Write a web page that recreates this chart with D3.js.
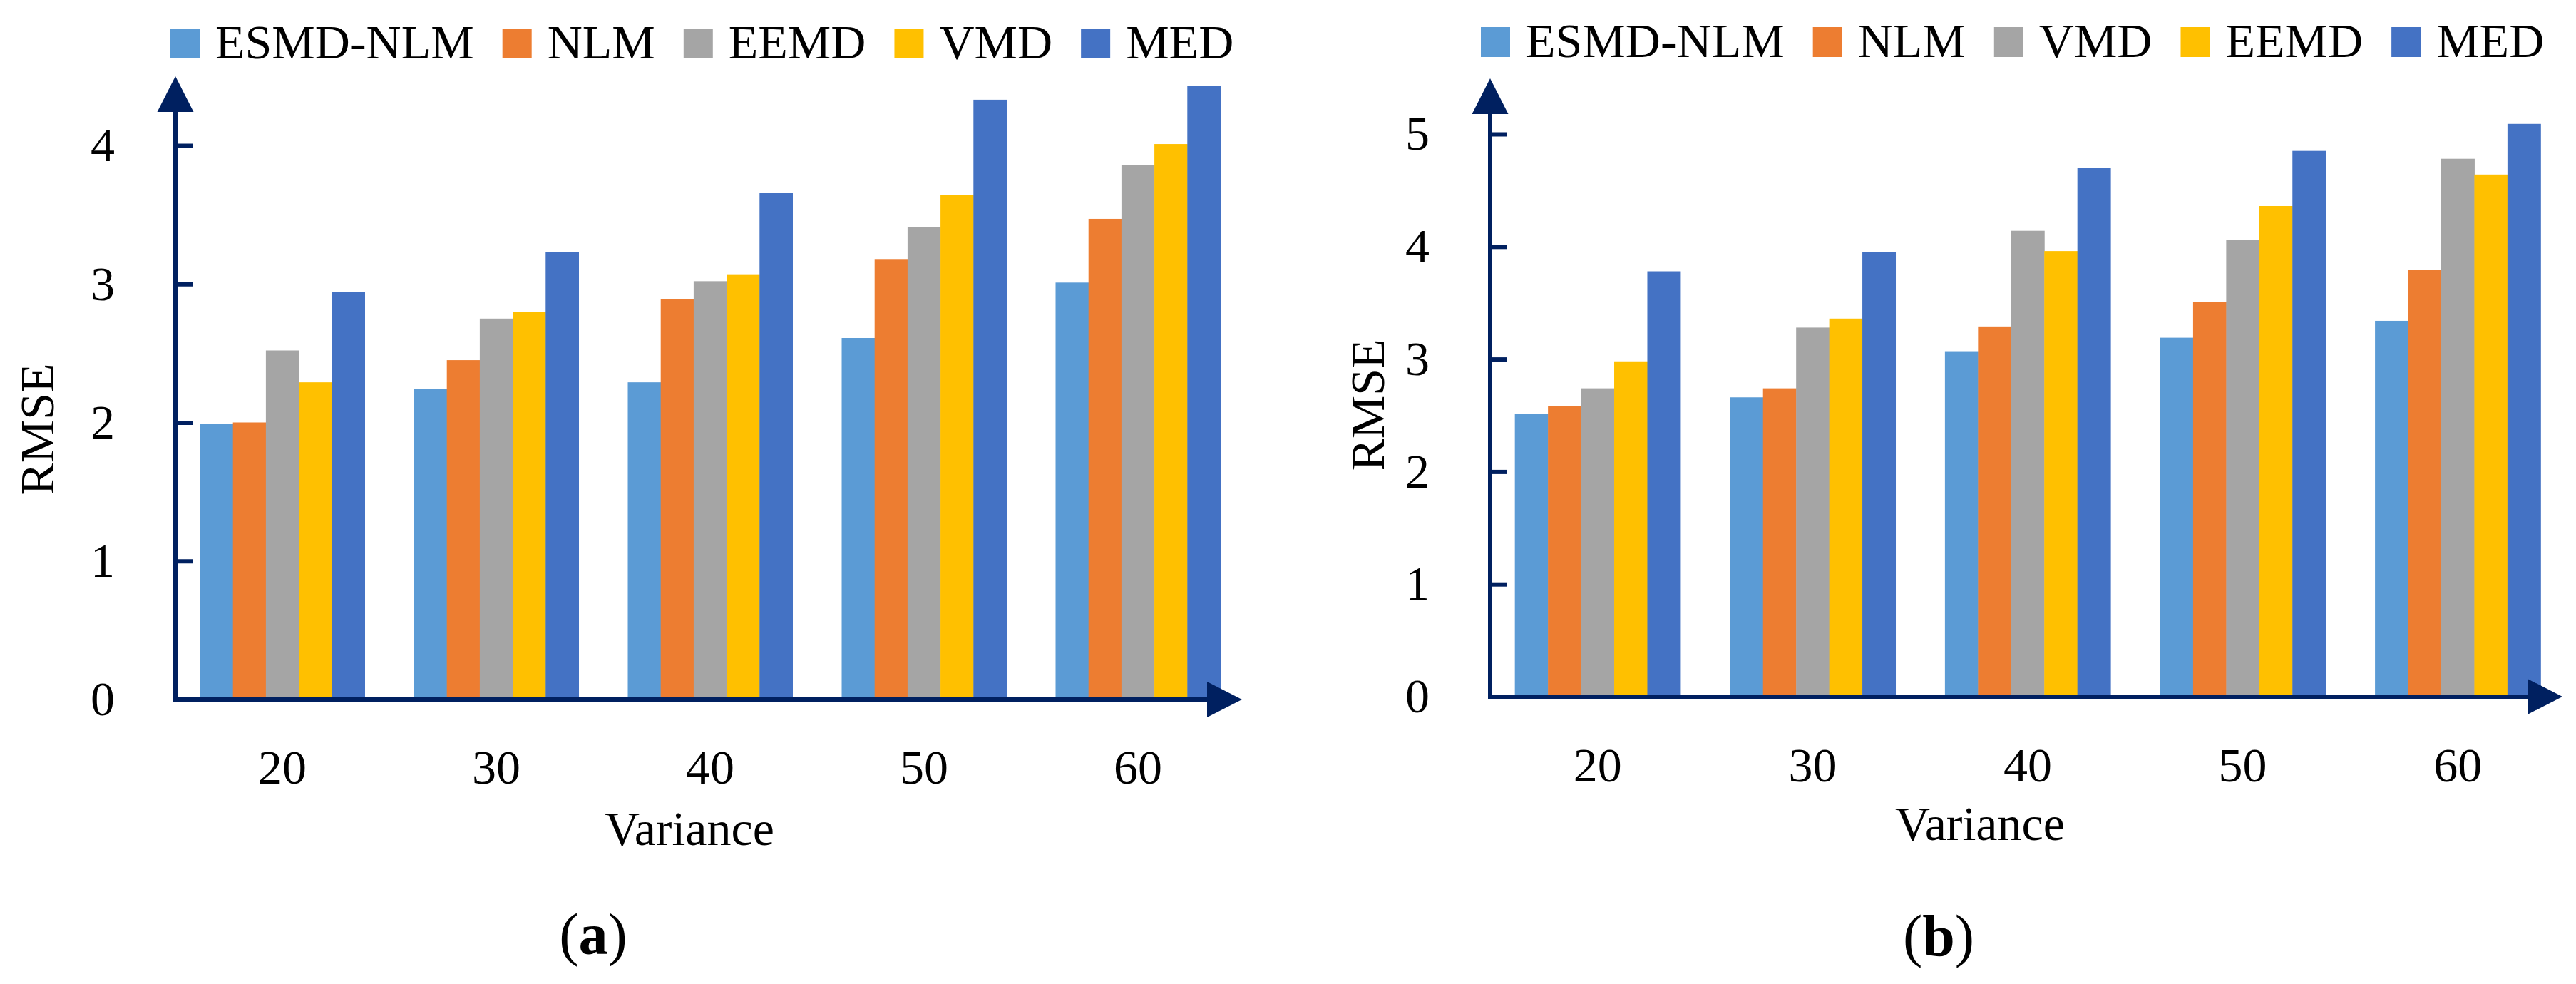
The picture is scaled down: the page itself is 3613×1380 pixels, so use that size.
<!DOCTYPE html>
<html lang="en">
<head>
<meta charset="UTF-8">
<title>RMSE vs Variance</title>
<script src="https://d3js.org/d3.v7.min.js"></script>
<style>
    body { margin: 0; background: white; }
    svg { display: block; font-family: "Liberation Serif", "Times New Roman", serif; }
    .label { font-size: 68px; fill: #000; }
    .legend text { font-size: 68px; fill: #000; }
    .panel-tag { font-size: 82px; fill: #000; }
</style>
</head>
<body>
<svg id="chart" width="3613" height="1380"></svg>
<script>
// categories (variance levels)
const categories = ["20", "30", "40", "50", "60"];

// panel (a)
const seriesA = ["ESMD-NLM", "NLM", "EEMD", "VMD", "MED"];
const aEsmdNlm = [1.99, 2.24, 2.29, 2.61, 3.01];
const aNlm     = [2.00, 2.45, 2.89, 3.18, 3.47];
const aEemd    = [2.52, 2.75, 3.02, 3.41, 3.86];
const aVmd     = [2.29, 2.80, 3.07, 3.64, 4.01];
const aMed     = [2.94, 3.23, 3.66, 4.33, 4.43];
const ticksA   = [0, 1, 2, 3, 4];

// panel (b)
const seriesB = ["ESMD-NLM", "NLM", "VMD", "EEMD", "MED"];
const bEsmdNlm = [2.51, 2.66, 3.07, 3.19, 3.34];
const bNlm     = [2.58, 2.74, 3.29, 3.51, 3.79];
const bVmd     = [2.74, 3.28, 4.14, 4.06, 4.78];
const bEemd    = [2.98, 3.36, 3.96, 4.36, 4.64];
const bMed     = [3.78, 3.95, 4.70, 4.85, 5.09];
const ticksB   = [0, 1, 2, 3, 4, 5];

// colours go by position in the legend
const colors = ["#5B9BD5", "#ED7D31", "#A5A5A5", "#FFC000", "#4472C4"];
const axisColor = "#002060";
const serif = '"Liberation Serif", "Times New Roman", serif';

const svg = d3.select("#chart");

function styleTicks(sel) {
    sel.selectAll("text")
        .style("font-family", serif)
        .style("font-size", "68px")
        .style("fill", "#000");
}

function drawPanel(p) {
    const g = svg.append("g");

    const x0 = d3.scaleBand()
        .domain(categories)
        .range(p.xRange)
        .paddingInner(0.23)
        .paddingOuter(0.115);

    const x1 = d3.scaleBand()
        .domain(p.series)
        .range([0, x0.bandwidth()]);

    const y = d3.scaleLinear()
        .domain([0, d3.max(p.ticks)])
        .range(p.yRange);

    const color = d3.scaleOrdinal().domain(p.series).range(colors);

    // bars
    g.append("g")
        .selectAll("g")
        .data(categories)
        .join("g")
        .attr("transform", d => `translate(${x0(d)},0)`)
        .selectAll("rect")
        .data((d, i) => p.series.map((s, k) => ({ key: s, value: p.values[k][i] })))
        .join("rect")
        .attr("x", d => x1(d.key))
        .attr("width", x1.bandwidth() + 0.5)
        .attr("y", d => y(d.value))
        .attr("height", d => y(0) - y(d.value))
        .attr("fill", d => color(d.key));

    const xAxisX = p.xRange[0];
    const y0 = y(0);

    // y axis with inward ticks
    const yAxis = g.append("g")
        .attr("transform", `translate(${xAxisX},0)`)
        .call(d3.axisLeft(y).tickValues(p.ticks).tickSize(-24).tickPadding(85).tickFormat(d3.format("d")));
    yAxis.select(".domain").remove();
    yAxis.selectAll(".tick line").attr("stroke", axisColor).attr("stroke-width", 6);
    yAxis.selectAll(".tick").filter(d => d === 0).select("line").remove();
    styleTicks(yAxis);

    // x labels
    const xAxis = g.append("g")
        .attr("transform", `translate(0,${y0})`)
        .call(d3.axisBottom(x0).tickSize(0).tickPadding(p.xPad));
    xAxis.select(".domain").remove();
    styleTicks(xAxis);

    // axis lines and arrows
    g.append("line")
        .attr("x1", xAxisX).attr("x2", xAxisX)
        .attr("y1", y0 + 3).attr("y2", p.yArrowBase)
        .attr("stroke", axisColor).attr("stroke-width", 6);
    g.append("path")
        .attr("d", `M${xAxisX},${p.yArrowBase - 50} L${xAxisX + 25.5},${p.yArrowBase} L${xAxisX - 25.5},${p.yArrowBase} Z`)
        .attr("fill", axisColor);

    const xEnd = p.xRange[1] - 4;
    g.append("line")
        .attr("x1", xAxisX - 3).attr("x2", xEnd - 49)
        .attr("y1", y0).attr("y2", y0)
        .attr("stroke", axisColor).attr("stroke-width", 6);
    g.append("path")
        .attr("d", `M${xEnd},${y0} L${xEnd - 49},${y0 - 25} L${xEnd - 49},${y0 + 25} Z`)
        .attr("fill", axisColor);

    // axis titles
    g.append("text")
        .attr("class", "label")
        .attr("transform", `translate(${p.yTitle[0]},${p.yTitle[1]}) rotate(-90)`)
        .attr("text-anchor", "middle")
        .text("RMSE");
    g.append("text")
        .attr("class", "label")
        .attr("x", p.xTitle[0]).attr("y", p.xTitle[1])
        .attr("text-anchor", "middle")
        .text("Variance");

    // panel tag
    const tag = g.append("text")
        .attr("class", "panel-tag")
        .attr("x", p.tag[0]).attr("y", p.tag[1])
        .attr("text-anchor", "middle");
    tag.append("tspan").text("(");
    tag.append("tspan").attr("font-weight", "bold").text(p.tagLetter);
    tag.append("tspan").text(")");

    // legend
    const legend = g.append("g").attr("class", "legend");
    let lx = p.legendX;
    p.series.forEach(s => {
        legend.append("rect")
            .attr("x", lx).attr("y", p.legendY)
            .attr("width", 41).attr("height", 42)
            .attr("fill", color(s));
        const t = legend.append("text")
            .attr("x", lx + 63).attr("y", p.legendY + 42)
            .text(s);
        lx += 63 + t.node().getComputedTextLength() + 40;
    });
}

drawPanel({
    series: seriesA,
    values: [aEsmdNlm, aNlm, aEemd, aVmd, aMed],
    ticks: ticksA,
    xRange: [246, 1746],
    yRange: [981, 204],
    yArrowBase: 157,
    xPad: 70,
    yTitle: [75, 602],
    xTitle: [967, 1185],
    tag: [832, 1338],
    tagLetter: "a",
    legendX: 239,
    legendY: 40
});

drawPanel({
    series: seriesB,
    values: [bEsmdNlm, bNlm, bVmd, bEemd, bMed],
    ticks: ticksB,
    xRange: [2090, 3598],
    yRange: [977, 188],
    yArrowBase: 160,
    xPad: 71,
    yTitle: [1941, 568],
    xTitle: [2777, 1178],
    tag: [2719, 1340],
    tagLetter: "b",
    legendX: 2077,
    legendY: 38
});
</script>
</body>
</html>
